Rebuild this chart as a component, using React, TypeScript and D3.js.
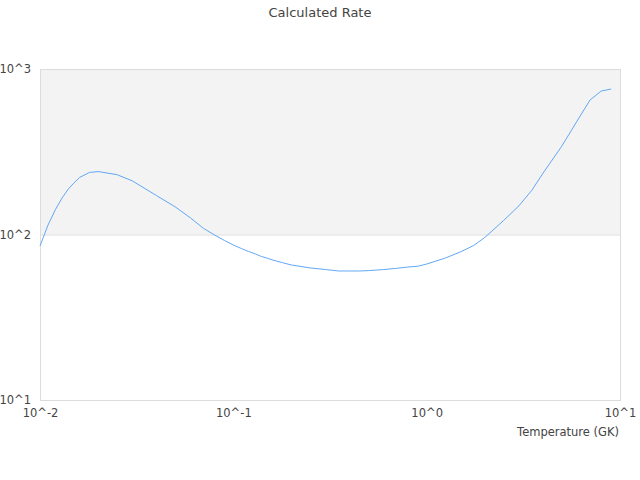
import { useEffect, useRef } from 'react';
import * as d3 from 'd3';

// temperature grid (GK) and rate values
const temps = [
  0.01, 0.011, 0.012, 0.013, 0.014, 0.015, 0.016, 0.018, 0.02, 0.025, 0.03, 0.04, 0.05,
  0.06, 0.07, 0.08, 0.09, 0.1, 0.11, 0.12, 0.13, 0.14, 0.15, 0.16, 0.18, 0.2, 0.25, 0.3,
  0.35, 0.4, 0.45, 0.5, 0.6, 0.7, 0.8, 0.9, 1, 1.25, 1.5, 1.75, 2, 2.5, 3, 3.5, 4, 5, 6,
  7, 8, 9,
];
const rates = [
  85.2, 114, 141, 166, 188, 205, 221, 237, 240, 230, 211, 172, 147,
  126, 109, 99.3, 92.0, 86.4, 82.3, 78.9, 76.3, 73.6, 71.9, 70.1, 67.5, 65.4, 62.8, 61.4,
  60.2, 60.2, 60.2, 60.5, 61.4, 62.5, 63.6, 64.3, 66.3, 72.1, 78.6, 85.8, 96, 121.5, 149, 185, 235, 342, 485,
  650, 736, 757,
];
const xTicks = [0.01, 0.1, 1, 10];
const xTickLabels = ['10^-2', '10^-1', '10^0', '10^1'];
const yTicks = [10, 100, 1000];
const yTickLabels = ['10^1', '10^2', '10^3'];
const bandRange = [100, 1000];

export default function App() {
  const ref = useRef<SVGSVGElement>(null);

  useEffect(() => {
    const svg = d3.select(ref.current);
    svg.selectAll('*').remove();

    const W = 640, H = 480;
    const margin = { top: 69, right: 20, bottom: 80, left: 40 };
    const w = W - margin.left - margin.right;
    const h = H - margin.top - margin.bottom;
    const font = '"DejaVu Sans", sans-serif';

    const x = d3.scaleLog().domain([0.01, 10]).range([0, w]);
    const y = d3.scaleLog().domain([10, 1000]).range([h, 0]);

    svg.append('text').attr('x', W / 2).attr('y', 17)
      .attr('text-anchor', 'middle').attr('font-family', font).attr('font-size', 13)
      .attr('fill', '#444').text('Calculated Rate');

    const g = svg.append('g').attr('transform', `translate(${margin.left},${margin.top})`);

    g.append('rect').attr('x', 0).attr('width', w)
      .attr('y', y(bandRange[1])).attr('height', y(bandRange[0]) - y(bandRange[1]))
      .attr('fill', '#f3f3f3');

    g.append('g')
      .call(d3.axisLeft(y).tickValues(yTicks).tickSize(-w).tickFormat('' as never))
      .call(gg => gg.select('.domain').remove())
      .call(gg => gg.selectAll('line').attr('stroke', '#dcdcdc'));

    g.append('rect').attr('x', 0.5).attr('y', 0.5).attr('width', w).attr('height', h)
      .attr('fill', 'none').attr('stroke', '#dcdcdc');

    const line = d3.line<number>()
      .x((_, i) => x(temps[i]))
      .y(d => y(d));
    g.append('path').datum(rates).attr('d', line)
      .attr('fill', 'none').attr('stroke', '#62a8f5').attr('stroke-width', 1);

    g.append('g').attr('transform', `translate(0,${h})`)
      .call(d3.axisBottom(x).tickValues(xTicks).tickSize(0).tickFormat((_, i) => xTickLabels[i]))
      .call(gg => gg.select('.domain').remove())
      .call(gg => gg.selectAll('text').attr('fill', '#444').attr('font-size', 11.5)
        .attr('font-family', font).attr('dy', '1.2em'));

    g.append('g')
      .call(d3.axisLeft(y).tickValues(yTicks).tickSize(0).tickFormat((_, i) => yTickLabels[i]))
      .call(gg => gg.select('.domain').remove())
      .call(gg => gg.selectAll('text').attr('fill', '#444').attr('font-size', 11.5)
        .attr('font-family', font).attr('x', -9));

    g.append('text').attr('x', w - 1).attr('y', h + 36)
      .attr('text-anchor', 'end').attr('font-family', font).attr('font-size', 11.5)
      .attr('fill', '#444').text('Temperature (GK)');
  }, []);

  return (
    <svg ref={ref} width={640} height={480}
      style={{ position: 'absolute', left: 0, top: 0 }} />
  );
}
